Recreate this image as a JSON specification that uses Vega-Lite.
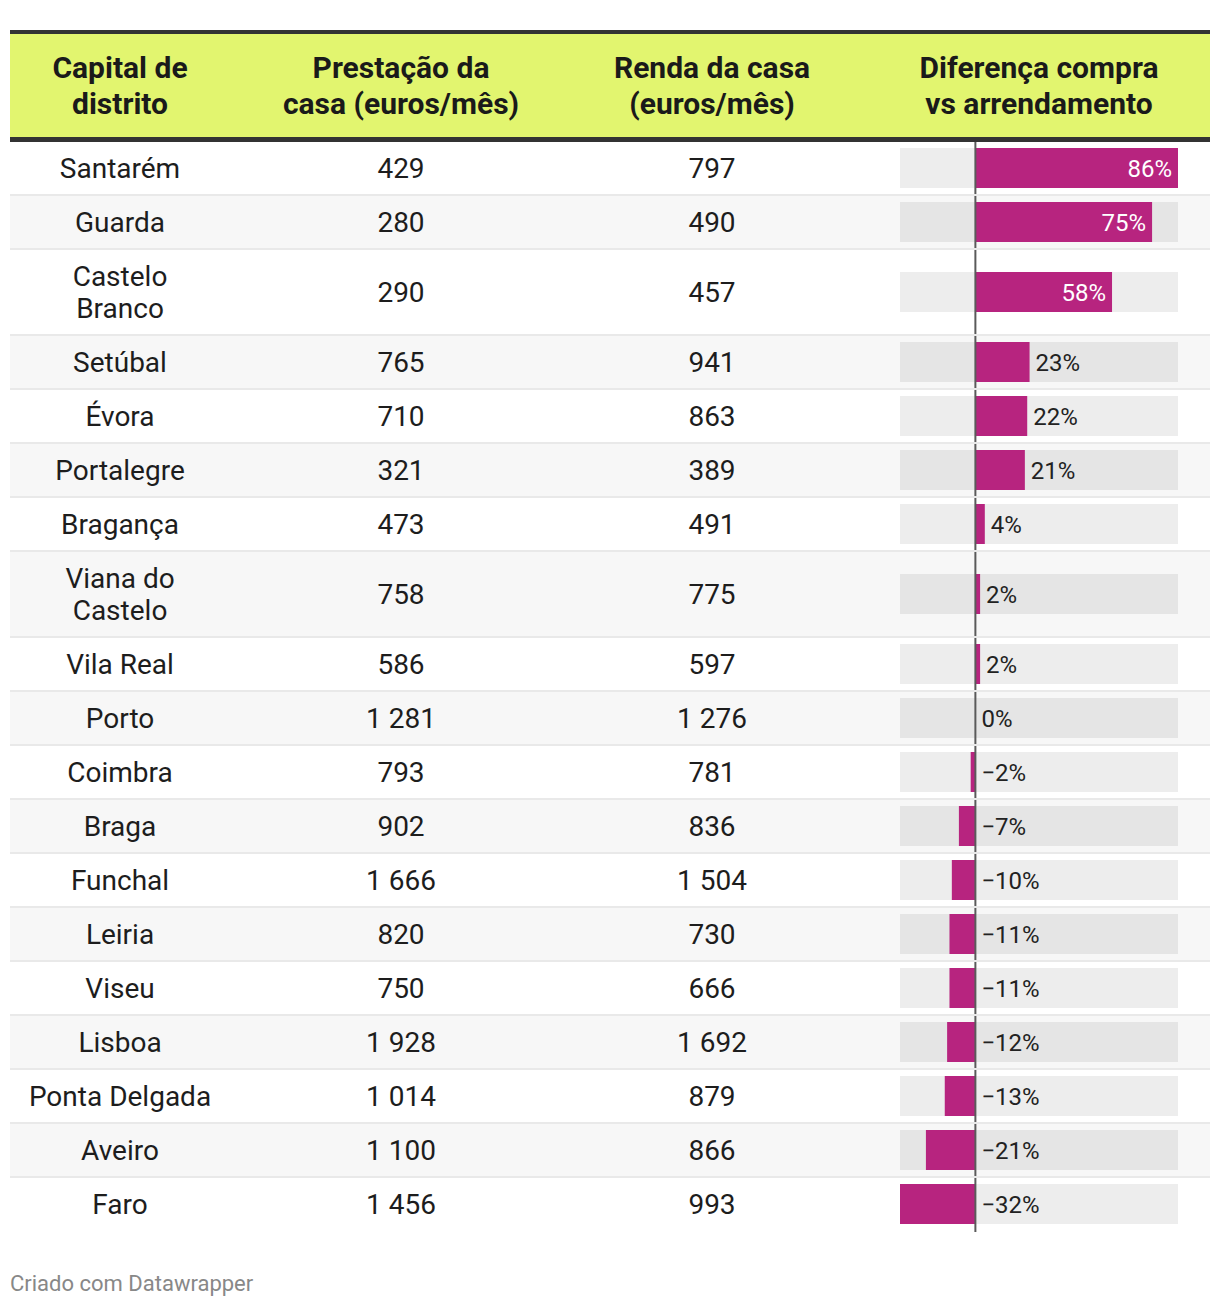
{
  "$schema": "https://vega.github.io/schema/vega-lite/v6.json",
  "width": 1200,
  "height": 1240,
  "autosize": "none",
  "padding": {"left": 10, "right": 10, "top": 0, "bottom": 66},
  "background": "#ffffff",
  "title": {"text": "Criado com Datawrapper", "orient": "bottom", "anchor": "start", "frame": "group", "offset": 34, "baseline": "top", "font": "Roboto", "fontSize": 22, "fontWeight": "normal", "color": "#888888"},
  "config": {
    "view": {"stroke": null},
    "font": "Roboto",
    "locale": {"number": {"decimal": ",", "thousands": " ", "grouping": [3], "currency": ["", " €"], "minus": "\u2212", "percent": "%"}}
  },
  "datasets": {
    "rows": [
      {"capital": "Santarém", "prestacao": 429, "renda": 797, "diff": 0.86},
      {"capital": "Guarda", "prestacao": 280, "renda": 490, "diff": 0.75},
      {"capital": "Castelo\nBranco", "prestacao": 290, "renda": 457, "diff": 0.58},
      {"capital": "Setúbal", "prestacao": 765, "renda": 941, "diff": 0.23},
      {"capital": "Évora", "prestacao": 710, "renda": 863, "diff": 0.22},
      {"capital": "Portalegre", "prestacao": 321, "renda": 389, "diff": 0.21},
      {"capital": "Bragança", "prestacao": 473, "renda": 491, "diff": 0.04},
      {"capital": "Viana do\nCastelo", "prestacao": 758, "renda": 775, "diff": 0.02},
      {"capital": "Vila Real", "prestacao": 586, "renda": 597, "diff": 0.02},
      {"capital": "Porto", "prestacao": 1281, "renda": 1276, "diff": 0.0},
      {"capital": "Coimbra", "prestacao": 793, "renda": 781, "diff": -0.02},
      {"capital": "Braga", "prestacao": 902, "renda": 836, "diff": -0.07},
      {"capital": "Funchal", "prestacao": 1666, "renda": 1504, "diff": -0.10},
      {"capital": "Leiria", "prestacao": 820, "renda": 730, "diff": -0.11},
      {"capital": "Viseu", "prestacao": 750, "renda": 666, "diff": -0.11},
      {"capital": "Lisboa", "prestacao": 1928, "renda": 1692, "diff": -0.12},
      {"capital": "Ponta Delgada", "prestacao": 1014, "renda": 879, "diff": -0.13},
      {"capital": "Aveiro", "prestacao": 1100, "renda": 866, "diff": -0.21},
      {"capital": "Faro", "prestacao": 1456, "renda": 993, "diff": -0.32}
    ],
    "header": [
      {"i": 0, "t": "Capital de\ndistrito"},
      {"i": 1, "t": "Prestação da\ncasa (euros/mês)"},
      {"i": 2, "t": "Renda da casa\n(euros/mês)"},
      {"i": 3, "t": "Diferença compra\nvs arrendamento"}
    ],
    "one": [{}]
  },
  "data": {"name": "rows"},
  "transform": [
    {"calculate": "length(split(datum.capital, '\\n'))", "as": "lines"},
    {"calculate": "22 + 32 * datum.lines", "as": "h"},
    {"window": [{"op": "sum", "field": "h", "as": "bottom"}, {"op": "row_number", "as": "idx"}], "frame": [null, 0]},
    {"calculate": "datum.bottom - datum.h", "as": "top"},
    {"calculate": "datum.top + (datum.h - 2) / 2", "as": "mid"},
    {"joinaggregate": [{"op": "min", "field": "diff", "as": "dmin"}, {"op": "max", "field": "diff", "as": "dmax"}, {"op": "count", "as": "n"}]}
  ],
  "resolve": {"scale": {"x": "independent"}},
  "layer": [
    {
      "layer": [
        {
          "mark": {"type": "rect"},
          "encoding": {
            "x": {"value": 0},
            "x2": {"value": "width"},
            "y": {"field": "top", "type": "quantitative", "scale": {"domain": [0, 1090], "range": [142, 1232], "nice": false, "zero": false}, "axis": null},
            "y2": {"field": "bottom"},
            "fill": {"condition": {"test": "datum.idx % 2 == 0", "value": "#f7f7f7"}, "value": "#ffffff"}
          }
        },
        {
          "data": {"name": "one"},
          "mark": {"type": "rect", "fill": "#333333"},
          "encoding": {
            "x": {"value": 0},
            "x2": {"value": "width"},
            "y": {"datum": -112, "type": "quantitative"},
            "y2": {"datum": 0}
          }
        },
        {
          "data": {"name": "one"},
          "mark": {"type": "rect", "fill": "#e2f56f"},
          "encoding": {
            "x": {"value": 0},
            "x2": {"value": "width"},
            "y": {"datum": -108, "type": "quantitative"},
            "y2": {"datum": -5}
          }
        },
        {
          "mark": {"type": "rect", "fill": "#000000", "fillOpacity": 0.07, "yOffset": -20, "y2Offset": 20},
          "encoding": {
            "x": {"field": "dmin", "type": "quantitative", "scale": {"range": [890, 1168], "nice": false, "zero": false}, "axis": null},
            "x2": {"field": "dmax"},
            "y": {"field": "mid", "type": "quantitative"},
            "y2": {"field": "mid"}
          }
        },
        {
          "mark": {"type": "rect", "fill": "#b7247f", "yOffset": -20, "y2Offset": 20},
          "encoding": {
            "x": {"field": "diff", "type": "quantitative"},
            "x2": {"datum": 0},
            "y": {"field": "mid", "type": "quantitative"},
            "y2": {"field": "mid"}
          }
        },
        {
          "mark": {"type": "rule", "stroke": "#5a5a5a", "strokeWidth": 2},
          "encoding": {
            "x": {"datum": 0, "type": "quantitative"},
            "y": {"field": "top", "type": "quantitative"},
            "y2": {"field": "bottom"}
          }
        },
        {
          "transform": [{"filter": "datum.idx < datum.n"}],
          "mark": {"type": "rule", "stroke": "#e9e9e9", "strokeWidth": 2, "yOffset": -1},
          "encoding": {
            "x": {"value": 0},
            "x2": {"value": "width"},
            "y": {"field": "bottom", "type": "quantitative"}
          }
        },
        {
          "transform": [{"filter": "datum.diff > 0.3"}],
          "mark": {"type": "text", "align": "right", "baseline": "middle", "dx": -6, "dy": 2, "font": "Roboto", "fontSize": 24, "fill": "#ffffff"},
          "encoding": {
            "x": {"field": "diff", "type": "quantitative"},
            "y": {"field": "mid", "type": "quantitative"},
            "text": {"field": "diff", "type": "quantitative", "format": ".0%"}
          }
        },
        {
          "transform": [{"filter": "datum.diff <= 0.3"}, {"calculate": "max(datum.diff, 0)", "as": "lx"}],
          "mark": {"type": "text", "align": "left", "baseline": "middle", "dx": 6, "dy": 2, "font": "Roboto", "fontSize": 24, "fill": "#222222"},
          "encoding": {
            "x": {"field": "lx", "type": "quantitative"},
            "y": {"field": "mid", "type": "quantitative"},
            "text": {"field": "diff", "type": "quantitative", "format": ".0%"}
          }
        }
      ]
    },
    {
      "layer": [
        {
          "transform": [{"filter": "datum.lines == 1"}],
          "mark": {"type": "text", "align": "center", "baseline": "middle", "dy": 2, "font": "Roboto", "fontSize": 28, "fill": "#1d1d1d"},
          "encoding": {
            "x": {"datum": 0, "type": "quantitative", "scale": {"type": "linear", "domain": [0, 1, 2, 3], "range": [110, 391, 702, 1029], "nice": false, "zero": false}, "axis": null},
            "y": {"field": "mid", "type": "quantitative"},
            "text": {"field": "capital", "type": "nominal"}
          }
        },
        {
          "transform": [{"filter": "datum.lines == 2"}],
          "mark": {"type": "text", "align": "center", "baseline": "middle", "dy": -14, "font": "Roboto", "fontSize": 28, "lineBreak": "\n", "lineHeight": 32, "fill": "#1d1d1d"},
          "encoding": {
            "x": {"datum": 0, "type": "quantitative"},
            "y": {"field": "mid", "type": "quantitative"},
            "text": {"field": "capital", "type": "nominal"}
          }
        },
        {
          "mark": {"type": "text", "align": "center", "baseline": "middle", "dy": 2, "font": "Roboto", "fontSize": 28, "fill": "#1d1d1d"},
          "encoding": {
            "x": {"datum": 1, "type": "quantitative"},
            "y": {"field": "mid", "type": "quantitative"},
            "text": {"field": "prestacao", "type": "quantitative", "format": ",d"}
          }
        },
        {
          "mark": {"type": "text", "align": "center", "baseline": "middle", "dy": 2, "font": "Roboto", "fontSize": 28, "fill": "#1d1d1d"},
          "encoding": {
            "x": {"datum": 2, "type": "quantitative"},
            "y": {"field": "mid", "type": "quantitative"},
            "text": {"field": "renda", "type": "quantitative", "format": ",d"}
          }
        },
        {
          "data": {"name": "header"},
          "mark": {"type": "text", "align": "center", "baseline": "middle", "dy": -17, "font": "Roboto", "fontSize": 30, "fontWeight": "bold", "lineBreak": "\n", "lineHeight": 36, "fill": "#1a1a1a"},
          "encoding": {
            "x": {"field": "i", "type": "quantitative"},
            "y": {"datum": -56.5, "type": "quantitative"},
            "text": {"field": "t", "type": "nominal"}
          }
        }
      ]
    }
  ]
}
